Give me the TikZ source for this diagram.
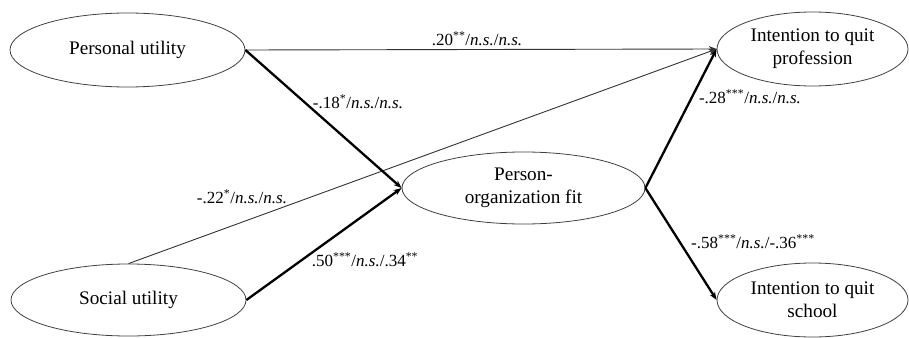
\documentclass[tikz,border=0pt]{standalone}
\usepackage{fontspec}
\setmainfont{Liberation Serif}
\usetikzlibrary{arrows.meta,shapes.geometric}

\begin{document}
\begin{tikzpicture}[x=1pt, y=-1pt, >={Stealth[length=8pt,width=6pt]},
    latent/.style={ellipse, draw=black!75, line width=0.8pt, inner sep=0pt, align=center, font=\fontsize{19.2}{23}\selectfont},
    weak/.style={->, line width=0.9pt, black!80},
    strong/.style={->, line width=2.3pt},
    coef/.style={font=\fontsize{17}{19}\selectfont, inner sep=0pt}]

        \useasboundingbox (0,0) rectangle (909,337);

        % LATENT VARIABLES
        \node[latent, minimum width=235pt, minimum height=74pt] (personal) at (127.5, 50) {Personal utility};
        \node[latent, minimum width=235pt, minimum height=72pt] (social) at (128.5, 300) {Social utility};
        \node[latent, minimum width=243pt, minimum height=72pt] (pofit) at (523.5, 188) {Person-\\organization fit};
        \node[latent, minimum width=191pt, minimum height=74pt] (quitprof) at (812.5, 49) {Intention to quit\\profession};
        \node[latent, minimum width=191pt, minimum height=74pt] (quitschool) at (812.5, 300) {Intention to quit\\school};

        % Paths
        \draw[weak] (personal.east) -- (quitprof.west);
        \draw[weak] (social.north) -- (quitprof.west);
        \draw[strong] (personal.east) -- (pofit.west);
        \draw[strong] (social.east) -- (pofit.west);
        \draw[strong] (pofit.east) -- (quitprof.west);
        \draw[strong] (pofit.east) -- (quitschool.west);

        % COEFFICIENTS
        \node[coef] (c20) at (477, 39) {.20\textsuperscript{**}/\textit{n.s.}/\textit{n.s.}};
        \node[coef] (c18) at (358, 102) {-.18\textsuperscript{*}/\textit{n.s.}/\textit{n.s.}};
        \node[coef] (c22) at (242, 197) {-.22\textsuperscript{*}/\textit{n.s.}/\textit{n.s.}};
        \node[coef] (c50) at (365, 260) {.50\textsuperscript{***}/\textit{n.s.}/.34\textsuperscript{**}};
        \node[coef] (c28) at (750, 97) {-.28\textsuperscript{***}/\textit{n.s.}/\textit{n.s.}};
        \node[coef] (c58) at (753, 242) {-.58\textsuperscript{***}/\textit{n.s.}/-.36\textsuperscript{***}};
    \end{tikzpicture}
\end{document}
